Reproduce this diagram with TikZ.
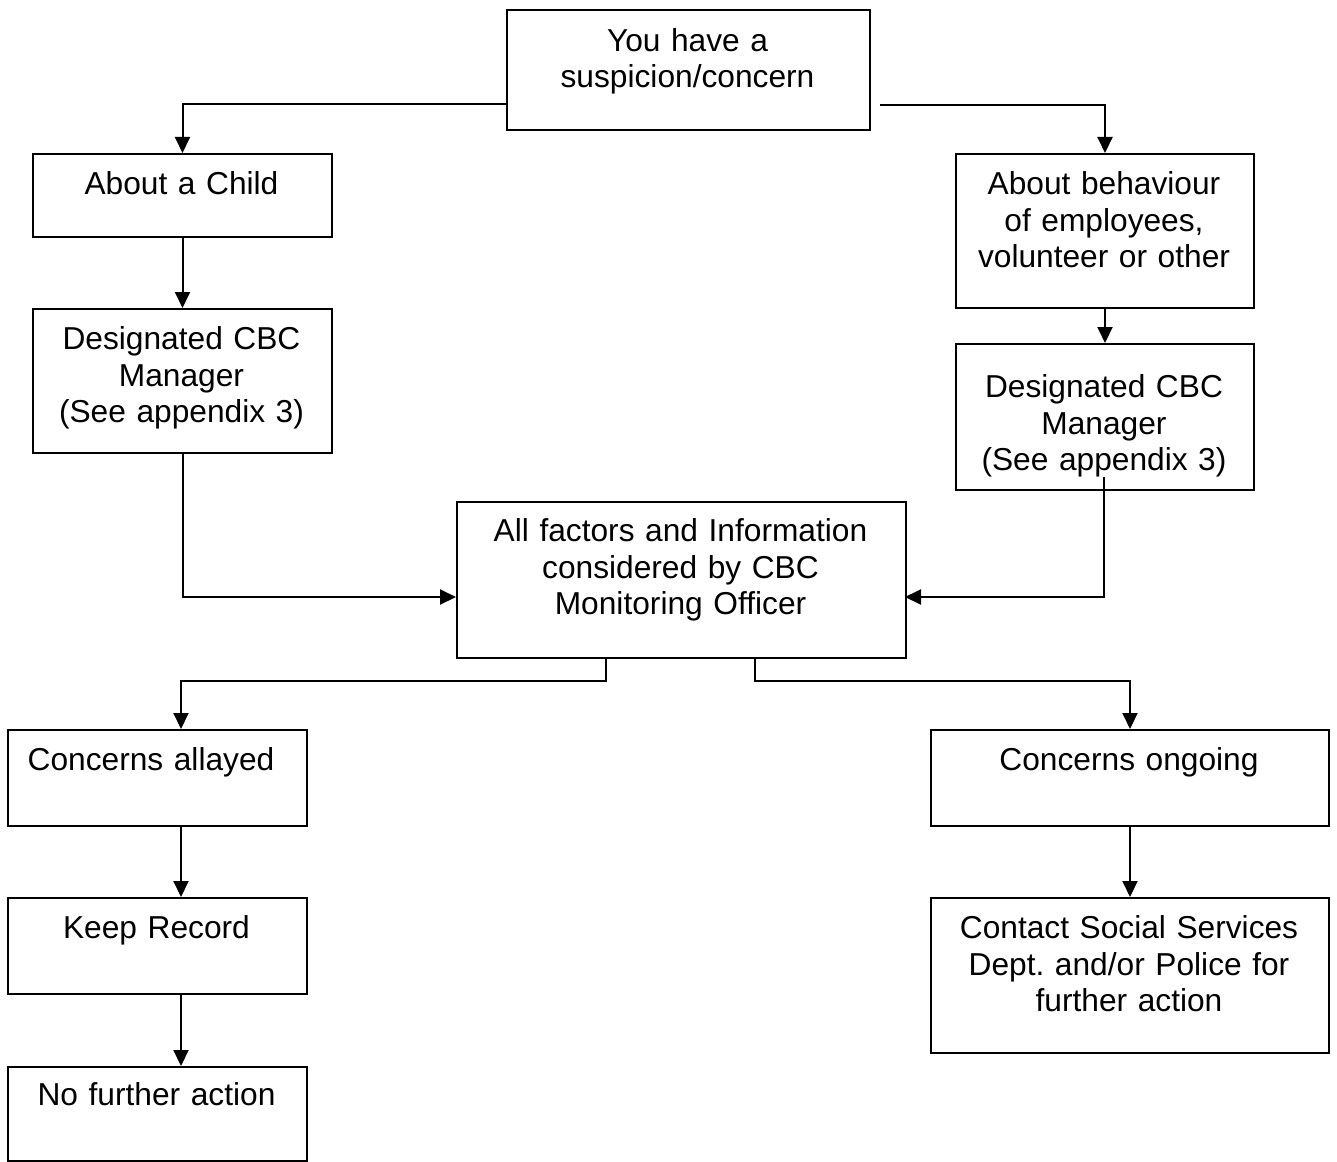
\documentclass[tikz,border=0pt]{standalone}
\usepackage{fontspec}
\setmainfont{Liberation Sans}
\usetikzlibrary{arrows.meta}
\frenchspacing
\begin{document}
\begin{tikzpicture}[x=1pt,y=-1pt,
  box/.style={draw, line width=2pt, inner sep=0pt, anchor=north west},
  txt/.style={anchor=base, align=center, inner sep=0pt, text width=440pt,
    font=\fontsize{31.7}{36.5}\selectfont},
  arr/.style={line width=2pt, -{Triangle[length=16pt,width=15pt]}},
  ln/.style={line width=2pt}]
\useasboundingbox (0,0) rectangle (1337,1161);
% boxes
\node[box, minimum width=363pt, minimum height=120pt] (top) at (506,9) {};
\node[box, minimum width=299pt, minimum height=83pt] (child) at (32,153) {};
\node[box, minimum width=298pt, minimum height=154pt] (beh) at (955,153) {};
\node[box, minimum width=299pt, minimum height=144pt] (desL) at (32,308) {};
\node[box, minimum width=298pt, minimum height=146pt] (desR) at (955,343) {};
\node[box, minimum width=449pt, minimum height=156pt] (mid) at (456,501) {};
\node[box, minimum width=299pt, minimum height=96pt] (allay) at (7,729) {};
\node[box, minimum width=398pt, minimum height=96pt] (ongo) at (930,729) {};
\node[box, minimum width=299pt, minimum height=96pt] (keep) at (7,897) {};
\node[box, minimum width=398pt, minimum height=155pt] (cont) at (930,897) {};
\node[box, minimum width=299pt, minimum height=94pt] (nofa) at (7,1066) {};
% texts
\node[txt] (ttop) at (687.5,51.5) {You have a\\suspicion/concern};
\node[txt] (tchild) at (181.5,194.5) {About a Child};
\node[txt] (tbeh) at (1104,194.5) {About behaviour\\of employees,\\volunteer or other};
\node[txt] (tdesL) at (181.5,349.5) {Designated CBC\\Manager\\(See appendix 3)};
\node[txt] (tdesR) at (1104,397.5) {Designated CBC\\Manager\\(See appendix 3)};
\node[txt] (tmid) at (680.5,541.5) {All factors and Information\\considered by CBC\\Monitoring Officer};
\node[txt] (tallay) at (151,770.5) {Concerns allayed};
\node[txt] (tongo) at (1129,770.5) {Concerns ongoing};
\node[txt] (tkeep) at (156.5,938.5) {Keep Record};
\node[txt] (tcont) at (1129,938.5) {Contact Social Services\\Dept. and/or Police for\\further action};
\node[txt] (tnofa) at (156.5,1105.5) {No further action};
% connector ends
\coordinate (s1) at (506,104);
\coordinate (s2) at (880,105);
\coordinate (s3) at (1104,477);
\coordinate (e1) at (456,597);
\coordinate (e2) at (905,597);
\coordinate (s4) at (606,657);
\coordinate (s5) at (755,657);
\coordinate (j1) at (606,681);
\coordinate (j2) at (755,681);
\coordinate (aT) at (181,729);
\coordinate (aB) at (181,825);
\coordinate (kT) at (181,897);
\coordinate (kB) at (181,993);
\coordinate (nT) at (181,1066);
% connectors
\draw[arr] (s1) -| (child.north);
\draw[arr] (s2) -| (beh.north);
\draw[arr] (child) -- (desL);
\draw[arr] (beh) -- (desR);
\draw[arr] (desL.south) |- (e1);
\draw[arr] (s3) |- (e2);
\draw[arr] (s4) -- (j1) -| (aT);
\draw[arr] (s5) -- (j2) -| (ongo.north);
\draw[arr] (aB) -- (kT);
\draw[arr] (kB) -- (nT);
\draw[arr] (ongo) -- (cont);
\end{tikzpicture}
\end{document}
